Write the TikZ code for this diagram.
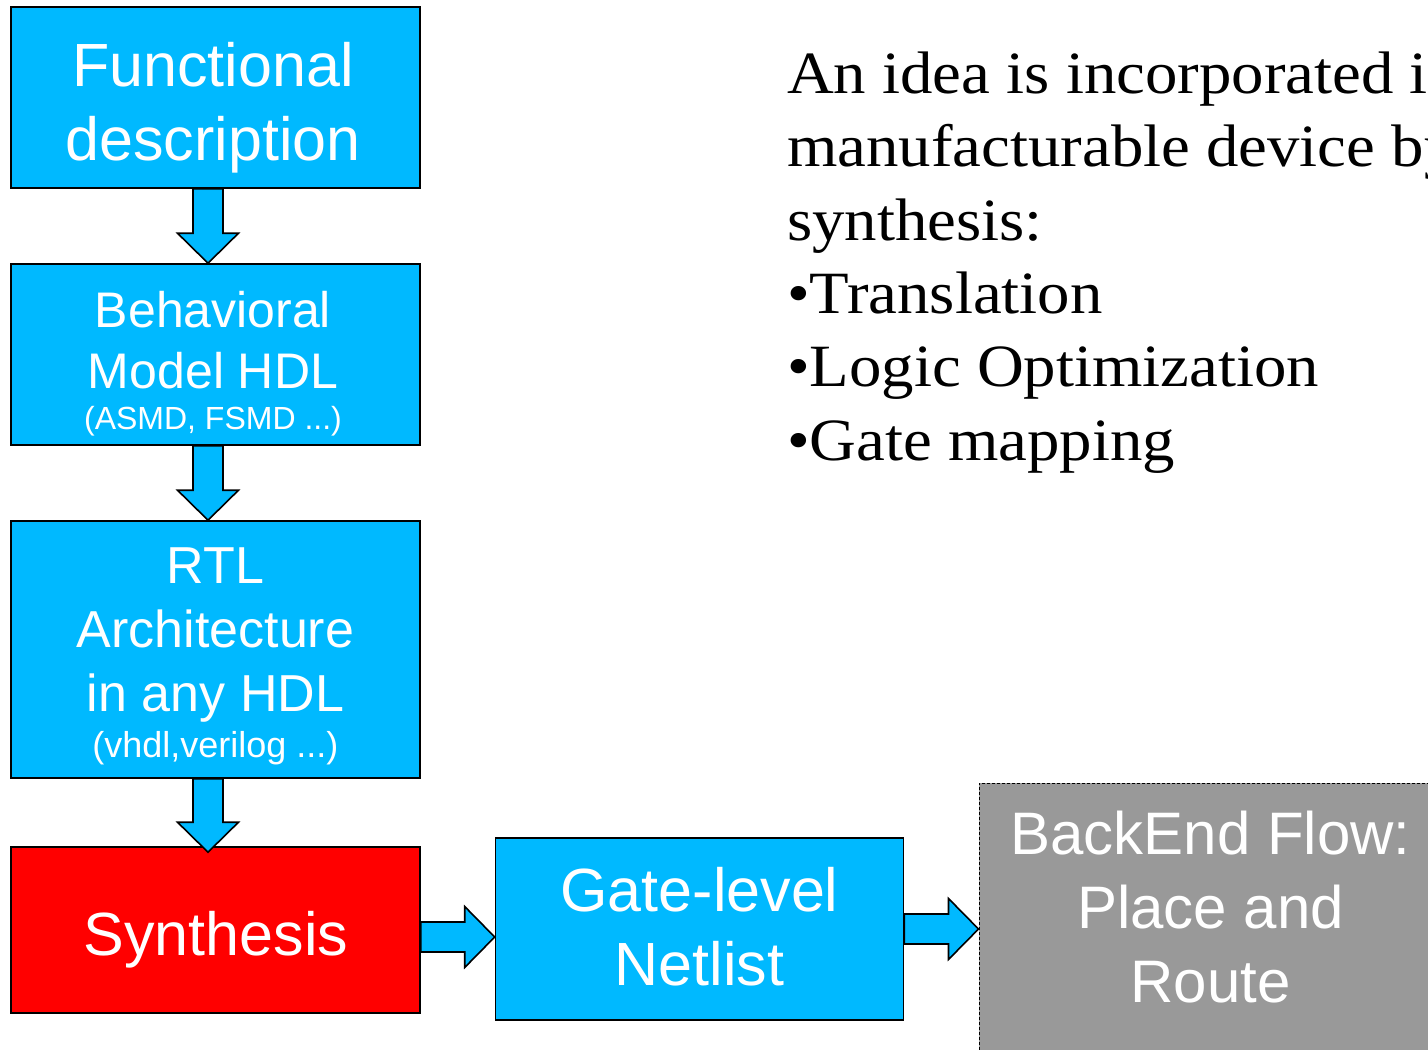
\documentclass[tikz,border=0pt]{standalone}
\usepackage{fontspec}
\setmainfont{Liberation Serif}[FakeStretch=1.08]
\newfontfamily\flowfont{Liberation Sans}
\usetikzlibrary{calc}
\definecolor{flowblue}{HTML}{00B9FF}
\definecolor{flowred}{HTML}{FF0000}
\definecolor{backgray}{HTML}{999999}
% block arrow pointing down: shaft starts at #1, tip at #2
\newcommand\flowdown[2]{%
  \draw[flowarrow] let \p1=(#1), \p2=(#2) in
    (\x2-15pt,\y1) -- (\x2-15pt,\y2+30pt) -- (\x2-30.5pt,\y2+30pt) -- (\x2,\y2)
    -- (\x2+30.5pt,\y2+30pt) -- (\x2+15pt,\y2+30pt) -- (\x2+15pt,\y1) -- cycle;}
% block arrow pointing right: shaft starts at #1, tip at #2
\newcommand\flowright[2]{%
  \draw[flowarrow] let \p1=(#1), \p2=(#2) in
    (\x1,\y2+15pt) -- (\x2-30pt,\y2+15pt) -- (\x2-30pt,\y2+30.5pt) -- (\x2,\y2)
    -- (\x2-30pt,\y2-30.5pt) -- (\x2-30pt,\y2-15pt) -- (\x1,\y2-15pt) -- cycle;}
\tikzset{
  flowbox/.style={rectangle, draw=black, line width=1.6pt, fill=flowblue, inner sep=0pt},
  synthbox/.style={flowbox, fill=flowred},
  backbox/.style={rectangle, draw=black, line width=1pt, dash pattern=on 3pt off 2pt,
    fill=backgray, inner sep=0pt},
  flowarrow/.style={draw=black, line width=1.6pt, fill=flowblue, line join=miter},
  % anchored on the baseline of the last line
  boxtext/.style={text=white, align=center, inner sep=0pt, anchor=base},
  bigsans/.style={font=\flowfont\fontsize{61}{74}\selectfont},
}
\begin{document}
\begin{tikzpicture}[x=1pt, y=-1pt]
\useasboundingbox (0,0) rectangle (1428,1050);

% design flow boxes
\node[flowbox, minimum width=409pt, minimum height=181pt] (func) at (215.5,97.5) {};
\node[flowbox, minimum width=409pt, minimum height=181pt] (behav) at (215.5,354.5) {};
\node[flowbox, minimum width=409pt, minimum height=257pt] (rtl) at (215.5,649.5) {};
\node[synthbox, minimum width=409pt, minimum height=166pt] (synth) at (215.5,930) {};
\node[flowbox, minimum width=408pt, minimum height=182pt] (gate) at (699.5,929) {};
\node[backbox, minimum width=462pt, minimum height=317pt] (be) at (1210,941.5) {};

% box labels
\node[boxtext, bigsans] (functxt) at (213,160) {Functional\\description};
\node[boxtext, font=\flowfont\fontsize{50}{61}\selectfont] (behavtxt) at (213,429)
  {Behavioral\\Model HDL\\[-20pt]{\fontsize{32}{38}\selectfont (ASMD, FSMD ...)}};
\node[boxtext, font=\flowfont\fontsize{52}{64}\selectfont] (rtltxt) at (215.5,757)
  {RTL\\Architecture\\in any HDL\\[-18pt]{\fontsize{36}{42}\selectfont (vhdl,verilog ...)}};
\node[boxtext, bigsans] (synthtxt) at (216,955) {Synthesis};
\node[boxtext, bigsans] (gatetxt) at (699.5,985) {Gate-level\\Netlist};
\node[boxtext, font=\flowfont\fontsize{60}{74}\selectfont] (betxt) at (1210.5,1002)
  {BackEnd Flow:\\Place and\\Route};

% connectors
\flowdown{func.south}{$(behav.north)+(-7.5,0)$}
\flowdown{behav.south}{$(rtl.north)+(-7.5,0)$}
\flowdown{rtl.south}{$(synth.north)+(-7.5,6)$}
\flowright{synth.east}{$(gate.west)+(0,8)$}
\flowright{gate.east}{gate.east -| be.west}

% explanatory text
\node[anchor=base west, align=left, inner sep=0pt, font=\fontsize{60}{73.3}\selectfont]
  (idea) at (787,460)
  {An idea is incorporated into a\\manufacturable device by\\synthesis:\\•Translation\\•Logic Optimization\\•Gate mapping};
\end{tikzpicture}
\end{document}
